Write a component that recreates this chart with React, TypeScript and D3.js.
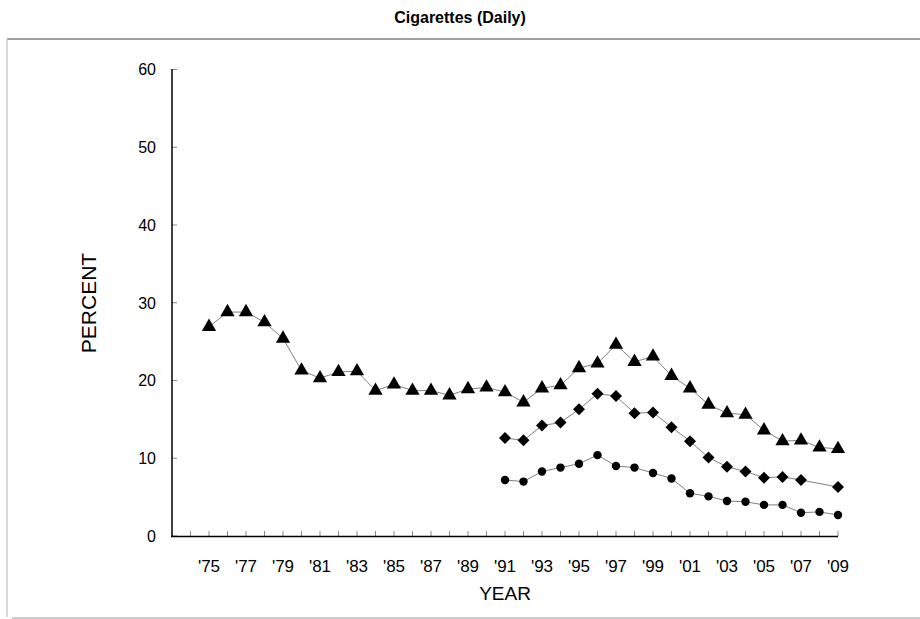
import React from "react";
import * as d3 from "d3";

const title = "Cigarettes (Daily)";
const yTicks = [0, 10, 20, 30, 40, 50, 60];
const labelYears = [1975, 1977, 1979, 1981, 1983, 1985, 1987, 1989, 1991, 1993, 1995, 1997, 1999, 2001, 2003, 2005, 2007, 2009];

const grade12Years = d3.range(1975, 2010);
const grade12Values = [26.9, 28.8, 28.8, 27.5, 25.4, 21.3, 20.3, 21.1, 21.2, 18.7, 19.5, 18.7, 18.7, 18.1, 18.9, 19.1, 18.5, 17.2, 19.0, 19.4, 21.6, 22.2, 24.6, 22.4, 23.1, 20.6, 19.0, 16.9, 15.8, 15.6, 13.6, 12.2, 12.3, 11.4, 11.2];

const grade10Years = [1991, 1992, 1993, 1994, 1995, 1996, 1997, 1998, 1999, 2000, 2001, 2002, 2003, 2004, 2005, 2006, 2007, 2009];
const grade10Values = [12.6, 12.3, 14.2, 14.6, 16.3, 18.3, 18.0, 15.8, 15.9, 14.0, 12.2, 10.1, 8.9, 8.3, 7.5, 7.6, 7.2, 6.3];

const grade8Years = d3.range(1991, 2010);
const grade8Values = [7.2, 7.0, 8.3, 8.8, 9.3, 10.4, 9.0, 8.8, 8.1, 7.4, 5.5, 5.1, 4.5, 4.4, 4.0, 4.0, 3.0, 3.1, 2.7];

const FONT = "'Liberation Sans', Arial, sans-serif";

export default function App() {
  const W = 920, H = 619;
  const x = d3.scaleLinear().domain([1973, 2009]).range([172, 838]);
  const y = d3.scaleLinear().domain([0, 60]).range([536, 69.5]);
  const line = d3.line<[number, number]>().x(d => x(d[0])).y(d => y(d[1]));
  const zip = (ys: number[], vs: number[]) => ys.map((yr, i) => [yr, vs[i]] as [number, number]);
  const s12 = zip(grade12Years, grade12Values);
  const s10 = zip(grade10Years, grade10Values);
  const s8 = zip(grade8Years, grade8Values);
  const tri = d3.symbol().type(d3.symbolTriangle).size(88)()!;
  const dia = d3.symbol().type(d3.symbolSquare).size(72)()!;
  const xTicks = d3.range(1974, 2010);

  return (
    <svg width={W} height={H} style={{ position: "absolute", left: 0, top: 0, background: "#fff" }}>
      <rect x={0} y={0} width={W} height={H} fill="#fff" />
      {/* frame */}
      <line x1={7} x2={W} y1={39} y2={39} stroke="#444" strokeWidth={1.2} />
      <line x1={7} x2={7} y1={39} y2={617} stroke="#ccc" strokeWidth={1.5} />
      <line x1={12} x2={W} y1={618} y2={618} stroke="#bbb" strokeWidth={1.5} />
      <text x={460} y={23} textAnchor="middle" fontFamily={FONT} fontWeight="bold" fontSize={16}>{title}</text>

      {/* y ticks */}
      {yTicks.map(t => (
        <g key={t}>
          <line x1={172} x2={177} y1={y(t)} y2={y(t)} stroke="#888" />
          <text x={156} y={y(t)} dy="0.36em" textAnchor="end" fontFamily={FONT} fontSize={16}>{t}</text>
        </g>
      ))}
      {/* x ticks */}
      {xTicks.map(t => (
        <line key={t} x1={x(t)} x2={x(t)} y1={536} y2={531} stroke="#888" />
      ))}
      {labelYears.map(t => (
        <text key={t} x={x(t)} y={572} textAnchor="middle" fontFamily={FONT} fontSize={17}>{"'" + String(t).slice(2)}</text>
      ))}
      <line x1={172} x2={172} y1={69} y2={537} stroke="#000" strokeWidth={1.5} />
      <line x1={171} x2={838} y1={536.5} y2={536.5} stroke="#000" strokeWidth={1.5} />

      <text x={505} y={600} textAnchor="middle" fontFamily={FONT} fontSize={19}>YEAR</text>
      <text transform={`translate(96,303) rotate(-90)`} textAnchor="middle" fontFamily={FONT} fontSize={21}>PERCENT</text>

      {/* series */}
      {[s12, s10, s8].map((s, i) => (
        <path key={i} d={line(s)!} fill="none" stroke="#808080" strokeWidth={1} />
      ))}
      {s12.map((d, i) => (
        <path key={"t" + i} d={tri} transform={`translate(${x(d[0])},${y(d[1])})`} fill="#000" />
      ))}
      {s10.map((d, i) => (
        <path key={"d" + i} d={dia} transform={`translate(${x(d[0])},${y(d[1])}) rotate(45)`} fill="#000" />
      ))}
      {s8.map((d, i) => (
        <circle key={"c" + i} cx={x(d[0])} cy={y(d[1])} r={4.2} fill="#000" />
      ))}
    </svg>
  );
}
